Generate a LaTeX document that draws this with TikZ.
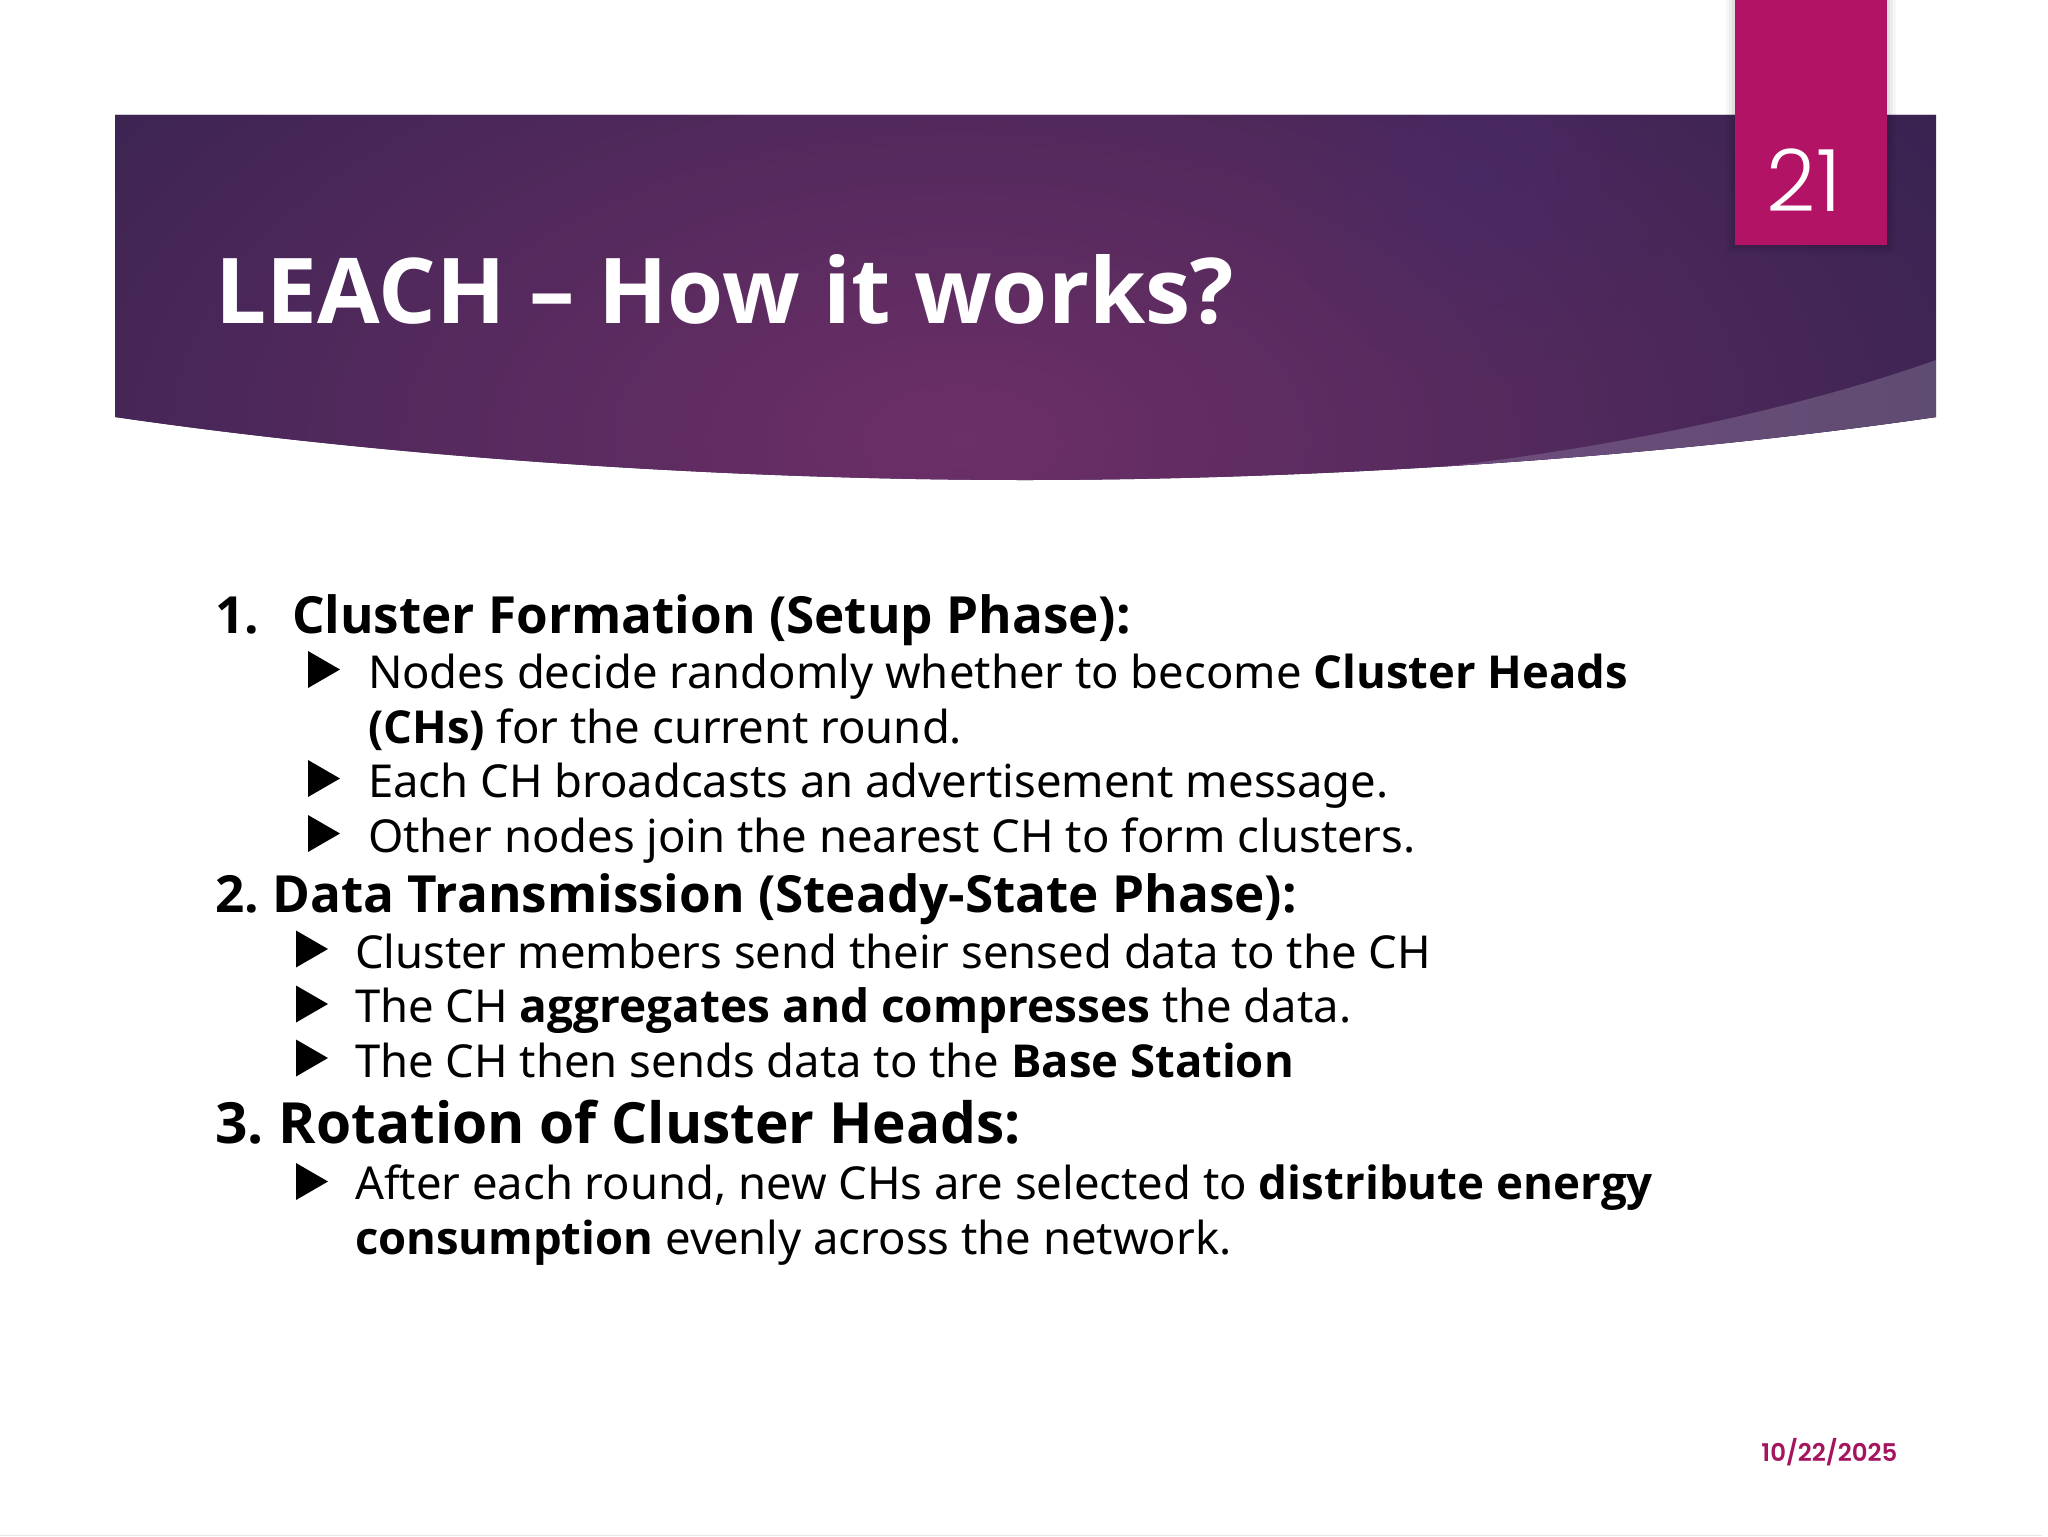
\documentclass[tikz,border=0pt]{standalone}
\usepackage{fontspec}
\setmainfont{Noto Sans}[BoldFont={Open Sans/B}]
\newfontfamily\numfont{Poppins Light}
\newfontfamily\datefont{Poppins SemiBold}
\usetikzlibrary{fadings}
\definecolor{edgec}{HTML}{33224F}
\definecolor{midc}{HTML}{6C2F67}
\definecolor{blobc}{HTML}{472A6B}
\definecolor{tabc}{HTML}{B31365}
\definecolor{datec}{HTML}{A5155F}
\definecolor{wedgec}{HTML}{5F4C72}
\definecolor{wedgeb}{HTML}{6E4C7C}
\pgfdeclareradialshading{bannshade}{\pgfpoint{0bp}{0bp}}{color(0bp)=(midc);color(16bp)=(midc!50!edgec);color(30bp)=(edgec);color(100bp)=(edgec)}
\tikzfading[name=blobfade,inner color=transparent!0,outer color=transparent!100]
\tikzset{
  x=0.5pt,y=-0.5pt,
  line/.style={anchor=base west,inner sep=0pt,outer sep=0pt,text=black,font=\fontsize{22.7}{27}\selectfont},
  head/.style={anchor=base west,inner sep=0pt,outer sep=0pt,text=black,font=\fontsize{25.6}{30}\selectfont\bfseries},
  headbig/.style={anchor=base west,inner sep=0pt,outer sep=0pt,text=black,font=\fontsize{28.4}{34}\selectfont\bfseries},
  tri/.style={fill=black}
}
\newcommand{\bul}[2]{\fill[tri] (#1,#2-37) -- ++(32,18.5) -- ++(-32,18.5) -- cycle;}
\begin{document}
\begin{tikzpicture}
\useasboundingbox (0,0) rectangle (2048,1536);
\fill[white] (0,0) rectangle (2048,1536);
\fill[black!9] (0,1534.6) rectangle (2042,1536);
% banner
\begin{scope}
  \clip (115,115) -- (1936,115) -- (1936,417) .. controls (1640,460) and (1300,480) .. (1025,480) .. controls (750,480) and (410,460) .. (115,417) -- cycle;
  \fill[edgec] (100,100) rectangle (1950,500);
  \shade[shading=bannshade] (-60,-120) rectangle (1980,1000);
  \fill[blobc,path fading=blobfade,opacity=.55] (1476,176) circle[radius=200];
  \shade[left color=wedgeb,right color=wedgec] (1936,360) .. controls (1810,405) and (1620,448) .. (1430,468) -- (1430,500) -- (1936,500) -- cycle;
\end{scope}
% tab
\foreach \d/\o in {9/.03,6/.04,3/.06}{
  \fill[black,opacity=\o] (1735-\d,0) rectangle (1887+\d,245+\d);
}
\fill[tabc] (1735,0) rectangle (1887,245);
\node[anchor=base,inner sep=0pt,text=white,font=\numfont\fontsize{43}{50}\selectfont] (num) at (1804,211) {21};
\node[anchor=base west,inner sep=0pt,text=white,font=\fontsize{45.4}{54}\selectfont\bfseries] (title) at (215,323) {LEACH – How it works?};
% body
\node[head] (h1n) at (215,633) {1.};
\node[head] (h1) at (292,633) {Cluster Formation (Setup Phase):};
\bul{308}{688}\bul{308}{797}\bul{308}{852}
\node[line] (a1) at (368,688) {Nodes decide randomly whether to become \textbf{Cluster Heads}};
\node[line] (a2) at (368,743) {\textbf{(CHs)} for the current round.};
\node[line] (a3) at (368,797) {Each CH broadcasts an advertisement message.};
\node[line] (a4) at (368,852) {Other nodes join the nearest CH to form clusters.};
\node[head] (h2) at (215,912) {2.\hspace{-2pt} Data Transmission (Steady-State Phase):};
\bul{296}{967.5}\bul{296}{1022.5}\bul{296}{1076.5}
\node[line] (b1) at (355,968) {Cluster members send their sensed data to the CH};
\node[line] (b2) at (355,1022) {The CH {\fontsize{22.98}{27}\selectfont\textbf{aggregates and compresses}} the data.};
\node[line] (b3) at (355,1077) {The CH then sends data to the \textbf{Base Station}};
\node[headbig] (h3) at (215,1143) {3.\hspace{-2.2pt} Rotation of Cluster Heads:};
\bul{296}{1200}
\node[line] (c1) at (355,1199.5) {After each round, new CHs are selected to {\fontsize{22.85}{27}\selectfont\textbf{distribute energy}}};
\node[line] (c2) at (355,1254) {\textbf{consumption} evenly across the network.};
\node[anchor=base west,inner sep=0pt,text=datec,font=\datefont\fontsize{12.2}{15}\selectfont] (date) at (1761,1461) {10/22/2025};
\end{tikzpicture}
\end{document}
